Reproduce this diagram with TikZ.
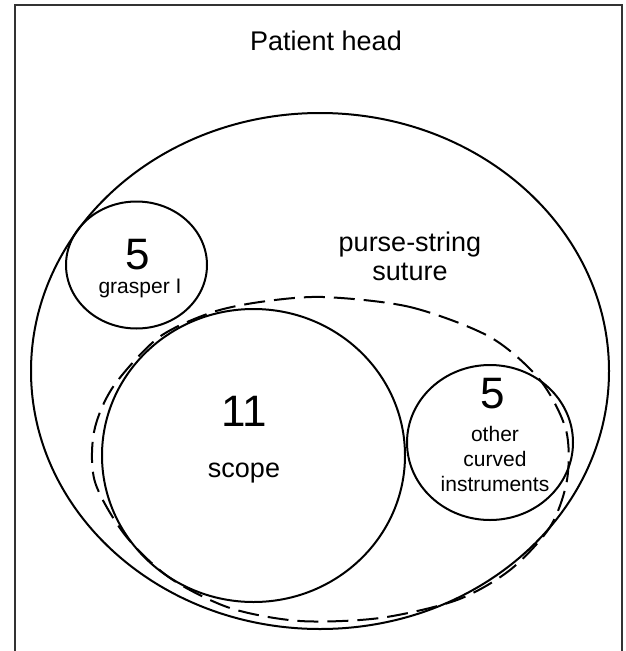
\documentclass[tikz,border=0pt]{standalone}
\usepackage{fontspec}
\setmainfont{Liberation Sans}
\usepackage{tikz}

\tikzset{
  ring/.style={line width=2pt},
  suture/.style={line width=2pt, dash pattern=on 21pt off 9pt},
  frame/.style={line width=1.6pt, draw=black!80},
  big/.style={font=\fontsize{27}{29}\selectfont, align=center},
  small/.style={font=\fontsize{21}{25}\selectfont, align=center},
  count/.style={font=\fontsize{44}{46}\selectfont}
}

\begin{document}
\begin{tikzpicture}[x=1pt,y=-1pt]
\useasboundingbox (0,0) rectangle (625,651);
\draw [frame] (15,660) -- (15,5) -- (622,5) -- (622,660);

% head and instruments
\draw [ring] (320,371) ellipse [x radius=289, y radius=258];
\draw [ring] (136.5,265) ellipse [x radius=70.5, y radius=63.5];
\draw [ring] (253.5,455.5) ellipse [x radius=151.5, y radius=146.5];
\draw [ring] (490,442.5) ellipse [x radius=83, y radius=77.5];

% purse-string
\draw [suture] plot [smooth cycle] coordinates {
(323,297) (410,307) (490,337) (540,380) (566,430) (567,480)
(550,527) (510,570) (457,600) (380,618) (300,621) (230,608)
(170,578) (125,535) (95,482) (94,432) (113,387) (158,338)
(210,313) (260,302)};

\node [big] (head) at (326,41) {Patient head};
\node [big] (purse) at (410,256) {purse-string\\suture};
\node [count] (n5a) at (138,255) {5};
\node [small] (grasp) at (140,288) {grasper I};
\node [count] (n11) at (244,411) {11};
\node [big] (scope) at (244,473) {scope};
\node [count] (n5b) at (493,394) {5};
\node [small] (other) at (495,459) {other\\curved\\instruments};
\end{tikzpicture}
\end{document}
